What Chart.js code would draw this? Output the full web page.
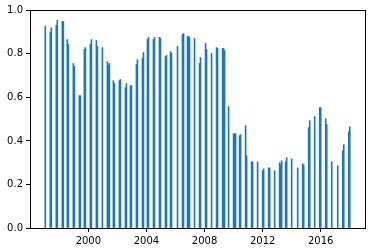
<!DOCTYPE html>
<html>
<head>
<meta charset="utf-8">
<script src="https://cdn.jsdelivr.net/npm/chart.js@4/dist/chart.umd.min.js"></script>
<style>
  html, body { margin: 0; padding: 0; background: #fff; }
  #wrap { width: 375px; height: 252px; }
</style>
</head>
<body>
<div id="wrap"><canvas id="chart" width="375" height="252"></canvas></div>
<script>
// bar positions (decimal years) and heights
const barYears = [
    1997.034, 1997.379, 1997.448, 1997.793, 1997.862, 1998.207, 1998.276, 1998.552, 1998.621,
    1998.966, 1999.034, 1999.379, 1999.448, 1999.724, 1999.793, 2000.138, 2000.207,
    2000.552, 2000.621, 2000.966, 2001.310, 2001.379, 2001.448, 2001.724, 2001.793,
    2002.138, 2002.207, 2002.552, 2002.621, 2002.897, 2002.966, 2003.310, 2003.379,
    2003.724, 2003.793, 2004.069, 2004.138,
    2004.483, 2004.552, 2004.897, 2004.966, 2005.310, 2005.379, 2005.655, 2005.724,
    2006.138, 2006.483, 2006.552, 2006.828, 2006.897, 2006.966, 2007.310, 2007.655, 2007.724,
    2008.069, 2008.138, 2008.483, 2008.828, 2008.897, 2009.241, 2009.310, 2009.379,
    2009.655, 2010.000, 2010.069, 2010.138, 2010.414, 2010.483, 2010.828, 2010.897,
    2011.241, 2011.310, 2011.655,
    2012.000, 2012.069, 2012.414, 2012.483, 2012.828, 2013.172, 2013.241, 2013.310,
    2013.586, 2013.655, 2014.000, 2014.414, 2014.759, 2014.828, 2015.172, 2015.241, 2015.586,
    2015.931, 2016.000, 2016.345, 2016.414, 2016.759, 2017.172, 2017.517, 2017.586,
    2017.931, 2018.000
];
const barValues = [
    0.928, 0.900, 0.920, 0.932, 0.954, 0.949, 0.949, 0.866, 0.845,
    0.756, 0.742, 0.608, 0.608, 0.820, 0.829, 0.845, 0.866,
    0.862, 0.834, 0.829, 0.765, 0.747, 0.756, 0.677, 0.664,
    0.677, 0.682, 0.645, 0.664, 0.654, 0.654, 0.751, 0.774,
    0.779, 0.806, 0.866, 0.876,
    0.866, 0.876, 0.876, 0.871, 0.788, 0.793, 0.811, 0.802,
    0.834, 0.889, 0.894, 0.880, 0.880, 0.876, 0.871, 0.756, 0.783,
    0.848, 0.820, 0.802, 0.829, 0.825, 0.825, 0.825, 0.816,
    0.558, 0.433, 0.433, 0.433, 0.424, 0.429, 0.470, 0.332,
    0.304, 0.304, 0.304,
    0.263, 0.272, 0.276, 0.276, 0.263, 0.300, 0.290, 0.309,
    0.304, 0.323, 0.318, 0.276, 0.295, 0.290, 0.461, 0.493, 0.512,
    0.553, 0.553, 0.502, 0.475, 0.304, 0.286, 0.355, 0.383,
    0.442, 0.465
];
const xTicks = [2000, 2004, 2008, 2012, 2016];
const yTicks = [0, 0.2, 0.4, 0.6, 0.8, 1.0];

const points = barYears.map((yr, i) => ({ x: yr, y: barValues[i] }));

// matplotlib-style box around the plot area
const framePlugin = {
    id: 'frame',
    afterDraw(chart) {
        const a = chart.chartArea;
        const ctx = chart.ctx;
        ctx.save();
        ctx.strokeStyle = '#000';
        ctx.lineWidth = 1;
        ctx.strokeRect(a.left + 0.5, a.top + 0.5, a.right - a.left, a.bottom - a.top);
        ctx.restore();
    }
};

const tickFont = { family: 'DejaVu Sans', size: 10 };

new Chart(document.getElementById('chart').getContext('2d'), {
    type: 'bar',
    data: {
        datasets: [{
            data: points,
            backgroundColor: '#1f77b4',
            barThickness: 1,
            borderWidth: 0
        }]
    },
    options: {
        responsive: false,
        animation: false,
        layout: { padding: { top: 10, right: 10, left: 0, bottom: 0 } },
        plugins: { legend: { display: false }, tooltip: { enabled: false } },
        scales: {
            x: {
                type: 'linear',
                offset: false,
                min: 1995.98,
                max: 2019.05,
                afterBuildTicks: s => { s.ticks = xTicks.map(v => ({ value: v })); },
                afterFit: s => { s.height = 24; },
                grid: { drawOnChartArea: false, tickLength: 4, color: '#000', offset: false },
                border: { display: false },
                ticks: { font: tickFont, color: '#000', padding: 3, maxRotation: 0, callback: v => String(v) }
            },
            y: {
                min: 0,
                max: 1.0017,
                afterBuildTicks: s => { s.ticks = yTicks.map(v => ({ value: v })); },
                afterFit: s => { s.width = 30; },
                grid: { drawOnChartArea: false, tickLength: 4, color: '#000' },
                border: { display: false },
                ticks: { font: tickFont, color: '#000', padding: 3, callback: v => v.toFixed(1) }
            }
        }
    },
    plugins: [framePlugin]
});
</script>
</body>
</html>
